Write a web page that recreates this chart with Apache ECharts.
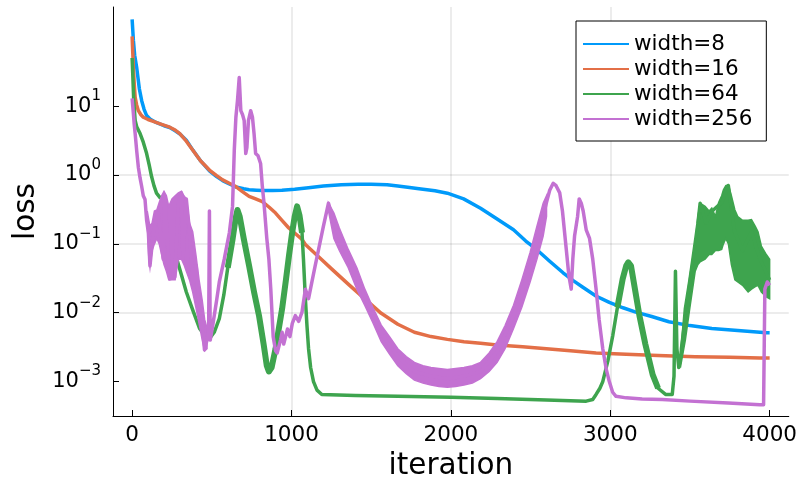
<!DOCTYPE html>
<html><head><meta charset="utf-8">
<script src="https://cdn.jsdelivr.net/npm/echarts@6/dist/echarts.min.js"></script>
<style>html,body{margin:0;padding:0;background:#fff}#c{width:800px;height:486px}</style>
</head><body><div id="c"></div>
<script>
const seriesNames = ['width=8', 'width=16', 'width=64', 'width=256'];
const xTicks = [0, 1000, 2000, 3000, 4000];
const yTicks = [0.001, 0.01, 0.1, 1, 10];

const w8 = [[0,182],[8,90],[16,55],[29,36],[45,18],[60,12],[75,9],[91,7.3],[112,6.5],[150,5.8],[200,5.2],[236,4.9],[270,4.4],[300,3.95],[340,3.2],[381,2.3],[430,1.6],[485,1.15],[530,0.95],[568,0.83],[610,0.74],[651,0.67],[700,0.63],[734,0.61],[780,0.6],[817,0.594],[880,0.595],[940,0.6],[1020,0.62],[1107,0.655],[1200,0.69],[1313,0.72],[1418,0.735],[1500,0.735],[1600,0.72],[1667,0.69],[1729,0.665],[1800,0.63],[1900,0.59],[1978,0.545],[2080,0.45],[2186,0.33],[2290,0.23],[2393,0.16],[2470,0.11],[2538,0.083],[2620,0.056],[2704,0.038],[2770,0.029],[2828,0.0234],[2910,0.0175],[2994,0.0141],[3080,0.0118],[3160,0.0102],[3260,0.0088],[3368,0.0074],[3500,0.0065],[3637,0.0059],[3800,0.0055],[3979,0.0051],[4000,0.0051]];

const w16 = [[0,103],[4,60],[8,36],[13,22],[19,13.4],[28,10.5],[39,8.6],[55,7.5],[70,6.9],[100,6.4],[133,6.0],[180,5.5],[236,4.95],[270,4.5],[299,3.98],[340,3.1],[381,2.29],[430,1.6],[485,1.18],[530,0.98],[568,0.85],[610,0.76],[651,0.68],[690,0.58],[734,0.49],[775,0.45],[817,0.41],[860,0.34],[900,0.28],[940,0.22],[983,0.17],[1025,0.14],[1066,0.116],[1087,0.098],[1170,0.065],[1253,0.043],[1356,0.026],[1460,0.0159],[1563,0.0098],[1667,0.0068],[1771,0.0052],[1875,0.0045],[1978,0.0041],[2082,0.0038],[2186,0.0036],[2290,0.0034],[2450,0.0032],[2600,0.003],[2750,0.0028],[2911,0.0026],[3100,0.0025],[3300,0.0024],[3533,0.0023],[3750,0.00225],[3938,0.0022],[4000,0.0022]];

const w64 = [[0,50],[5,25],[10,12],[19,6.2],[29,5.0],[50,4.0],[70,3.0],[91,2.05],[107,1.4],[122,0.95],[137,0.7],[153,0.545],[175,0.47],[195,0.44],[215,0.3],[240,0.15],[260,0.09],[278,0.063],[310,0.035],[340,0.02],[380,0.011],[423,0.0059],[455,0.0047],[485,0.0042],[515,0.0052],[547,0.0082],[575,0.018],[600,0.045],[630,0.116],[650,0.24],[661,0.31],[675,0.25],[700,0.12],[734,0.048],[765,0.02],[796,0.0091],[825,0.0035],[845,0.0017],[858,0.0014],[875,0.0016],[900,0.003],[920,0.0058],[941,0.0114],[965,0.03],[985,0.07],[1004,0.145],[1020,0.25],[1035,0.35],[1050,0.26],[1066,0.145],[1075,0.06],[1087,0.016],[1097,0.0065],[1107,0.003],[1120,0.0016],[1138,0.001],[1160,0.00075],[1190,0.00065],[1400,0.00063],[1667,0.00061],[2000,0.00059],[2290,0.00057],[2600,0.00054],[2849,0.00052],[2890,0.00055],[2911,0.00065],[2935,0.0008],[2953,0.001],[2985,0.002],[3016,0.0047],[3045,0.012],[3078,0.031],[3100,0.048],[3113,0.054],[3130,0.048],[3155,0.022],[3183,0.0091],[3220,0.0035],[3266,0.00126],[3300,0.0008],[3347,0.00065],[3389,0.00065],[3400,0.0012],[3409,0.04],[3418,0.003],[3430,0.0016],[3450,0.003],[3471,0.0114],[3500,0.03],[3533,0.104],[3550,0.2],[3564,0.39],[3600,0.2],[3640,0.3],[3700,0.4],[3741,0.7],[3780,0.15],[3830,0.08],[3886,0.15],[3940,0.06],[4000,0.03]];

// oscillation envelope of width=64: [iteration, low, high]
const w64Band = [[3440,0.0016,0.003],[3471,0.004,0.0114],[3500,0.012,0.035],[3533,0.04,0.104],[3550,0.05,0.25],[3564,0.055,0.39],[3595,0.06,0.35],[3620,0.07,0.3],[3637,0.07,0.33],[3660,0.08,0.25],[3680,0.08,0.4],[3699,0.083,0.5],[3710,0.1,0.61],[3725,0.12,0.7],[3741,0.1,0.72],[3760,0.05,0.5],[3782,0.03,0.31],[3800,0.028,0.25],[3830,0.025,0.22],[3865,0.02,0.22],[3886,0.022,0.225],[3910,0.024,0.18],[3927,0.025,0.15],[3948,0.02,0.093],[3979,0.017,0.07],[4000,0.016,0.06]];

const w256 = [[0,13],[4,10],[8,7.7],[13,5.5],[19,4.0],[29,2.2],[39,1.3],[50,0.9],[60,0.68],[70,0.5],[81,0.44],[91,0.22],[102,0.145],[112,0.048],[133,0.145],[164,0.28],[195,0.06],[205,0.5],[236,0.031],[268,0.033],[290,0.4],[309,0.55],[319,0.06],[340,0.45],[361,0.145],[381,0.025],[402,0.048],[423,0.0091],[433,0.0114],[454,0.0029],[470,0.004],[480,0.005],[485,0.3],[490,0.004],[506,0.0066],[530,0.015],[547,0.028],[578,0.06],[610,0.145],[630,0.35],[641,2.3],[651,6.9],[661,12],[672,26],[682,8.6],[693,7.5],[703,6.2],[713,2.05],[720,2.5],[730,6.2],[744,8.6],[755,6.9],[765,4],[775,2.05],[790,1.9],[806,1.47],[817,0.68],[827,0.4],[845,0.12],[858,0.06],[870,0.022],[885,0.0045],[900,0.0028],[910,0.0026],[921,0.0026],[931,0.004],[941,0.0052],[951,0.0035],[961,0.0034],[975,0.0058],[990,0.0045],[1005,0.007],[1024,0.0091],[1045,0.0075],[1066,0.0102],[1087,0.022],[1107,0.016],[1128,0.028],[1150,0.05],[1170,0.083],[1200,0.18],[1232,0.39],[1266,0.2],[1356,0.063],[1460,0.017],[1563,0.005],[1667,0.0023],[1771,0.0014],[1875,0.0012],[1978,0.0011],[2082,0.0012],[2186,0.0014],[2290,0.0027],[2393,0.009],[2497,0.045],[2579,0.25],[2600,0.4],[2620,0.6],[2642,0.76],[2660,0.7],[2683,0.55],[2700,0.3],[2724,0.083],[2740,0.035],[2755,0.022],[2765,0.06],[2776,0.13],[2795,0.25],[2805,0.45],[2818,0.39],[2830,0.3],[2849,0.16],[2870,0.12],[2890,0.06],[2911,0.022],[2930,0.008],[2953,0.003],[2975,0.0015],[2994,0.001],[3015,0.0007],[3036,0.00061],[3100,0.00058],[3200,0.00056],[3326,0.00055],[3500,0.00052],[3741,0.00049],[3938,0.00046],[3962,0.00046],[3970,0.022],[3985,0.028],[4000,0.025]];

// oscillation envelopes of width=256: [iteration, low, high]
const w256BandA = [[95,0.2,0.3],[105,0.06,0.22],[112,0.045,0.18],[125,0.08,0.2],[140,0.1,0.3],[155,0.12,0.31],[170,0.1,0.4],[185,0.07,0.5],[200,0.05,0.58],[215,0.04,0.5],[230,0.03,0.35],[250,0.03,0.45],[270,0.03,0.5],[290,0.06,0.55],[310,0.06,0.58],[325,0.05,0.5],[340,0.04,0.45],[360,0.03,0.2],[380,0.02,0.15],[400,0.012,0.07],[420,0.007,0.03],[440,0.004,0.015],[455,0.0028,0.008],[470,0.003,0.006]];
const w256BandB = [[1232,0.3,0.39],[1266,0.12,0.28],[1300,0.08,0.17],[1356,0.045,0.083],[1410,0.022,0.045],[1460,0.0128,0.022],[1510,0.0072,0.012],[1563,0.0038,0.0066],[1615,0.0025,0.0045],[1667,0.0017,0.003],[1720,0.0013,0.0023],[1771,0.00105,0.0019],[1825,0.00095,0.0017],[1875,0.00089,0.0016],[1925,0.00085,0.00155],[1978,0.00083,0.0015],[2030,0.00085,0.00155],[2082,0.00089,0.0016],[2135,0.00095,0.0017],[2186,0.0011,0.0019],[2240,0.0014,0.0026],[2290,0.0019,0.0038],[2340,0.003,0.0065],[2393,0.0059,0.0128],[2445,0.012,0.03],[2497,0.028,0.075],[2540,0.06,0.18],[2579,0.13,0.39],[2600,0.25,0.5]];

const colors = ['#009AFA', '#E36F47', '#3EA44E', '#C371D2'];
const FONT = 'DejaVu Sans';

function lineSeries(name, data, color, width, z) {
  return { type: 'line', name: name, data: data, symbol: 'none', showSymbol: false,
    lineStyle: { color: color, width: width, join: 'round' }, itemStyle: { color: color },
    z: z, animation: false, silent: true, emphasis: { disabled: true }, clip: true };
}
function bandSeries(band, color, z) {
  return { type: 'custom', data: [[band[0][0], band[0][1]]], z: z, silent: true, animation: false,
    encode: { x: 0, y: 1 },
    renderItem: function (params, api) {
      const up = band.map(function (b) { return api.coord([b[0], b[2]]); });
      const lo = band.slice().reverse().map(function (b) { return api.coord([b[0], b[1]]); });
      return { type: 'polygon', shape: { points: up.concat(lo) },
        style: { fill: color, stroke: color, lineWidth: 1.5 } };
    } };
}
function supLabel(v) {
  const e = Math.log10(v);
  const r = Math.round(e);
  if (Math.abs(e - r) > 1e-6) return '';
  const s = r < 0 ? '\u2212' + (-r) : String(r);
  return '{b|10}{s|' + s + '}';
}

const chart = echarts.init(document.getElementById('c'), null, { renderer: 'canvas' });
chart.setOption({
  animation: false,
  backgroundColor: '#fff',
  grid: { left: 113, right: 6, top: 7, bottom: 67, containLabel: false },
  legend: {
    data: seriesNames, orient: 'vertical', left: 576, top: 21,
    padding: [12, 14, 11, 7], itemGap: 3, itemWidth: 46, itemHeight: 2, icon: 'rect',
    borderColor: '#000', borderWidth: 1, backgroundColor: '#fff', selectedMode: false,
    textStyle: { fontFamily: FONT, fontSize: 21.5, color: '#000', lineHeight: 21 }
  },
  xAxis: {
    type: 'value', min: -120, max: 4120,
    name: 'iteration', nameLocation: 'middle', nameGap: 35,
    nameTextStyle: { fontFamily: FONT, fontSize: 29.5, color: '#000' },
    axisLine: { show: true, onZero: false, lineStyle: { color: '#000', width: 1 } },
    axisTick: { show: true, inside: true, length: 6, customValues: xTicks, lineStyle: { color: '#000' } },
    axisLabel: { fontFamily: FONT, fontSize: 21.5, color: '#000', margin: 8, customValues: xTicks,
      formatter: function (v) { return xTicks.indexOf(v) >= 0 ? String(v) : ''; } },
    splitLine: { show: true, showMinLine: false, showMaxLine: false, lineStyle: { color: 'rgba(0,0,0,0.1)', width: 1.5 } }
  },
  yAxis: {
    type: 'log', logBase: 10, min: Math.pow(10, -3.5), max: Math.pow(10, 2.44),
    name: 'loss', nameLocation: 'middle', nameGap: 72,
    nameTextStyle: { fontFamily: FONT, fontSize: 29.5, color: '#000' },
    axisLine: { show: true, onZero: false, lineStyle: { color: '#000', width: 1 } },
    axisTick: { show: true, inside: true, length: 6, customValues: yTicks, lineStyle: { color: '#000' } },
    axisLabel: { fontFamily: FONT, fontSize: 21, color: '#000', margin: 12, customValues: yTicks,
      formatter: supLabel,
      rich: { b: { fontFamily: FONT, fontSize: 21, color: '#000' },
              s: { fontFamily: FONT, fontSize: 15, color: '#000', padding: [0, 0, 20, 0] } } },
    splitLine: { show: true, showMinLine: false, showMaxLine: false, lineStyle: { color: 'rgba(0,0,0,0.1)', width: 1.5 } }
  },
  series: [
    lineSeries(seriesNames[0], w8, colors[0], 3.5, 2),
    lineSeries(seriesNames[1], w16, colors[1], 3.5, 3),
    lineSeries(seriesNames[2], w64, colors[2], 3.5, 4),
    lineSeries(null, w64.filter(function (p) { return p[0] >= 590 && p[0] <= 1070; }), colors[2], 6, 4),
    lineSeries(null, w64.filter(function (p) { return p[0] >= 3030 && p[0] <= 3300; }), colors[2], 6, 4),
    bandSeries(w64Band, colors[2], 4),
    lineSeries(seriesNames[3], w256, colors[3], 3.5, 5),
    bandSeries(w256BandA, colors[3], 5),
    bandSeries(w256BandB, colors[3], 5)
  ]
});
</script>
</body></html>
